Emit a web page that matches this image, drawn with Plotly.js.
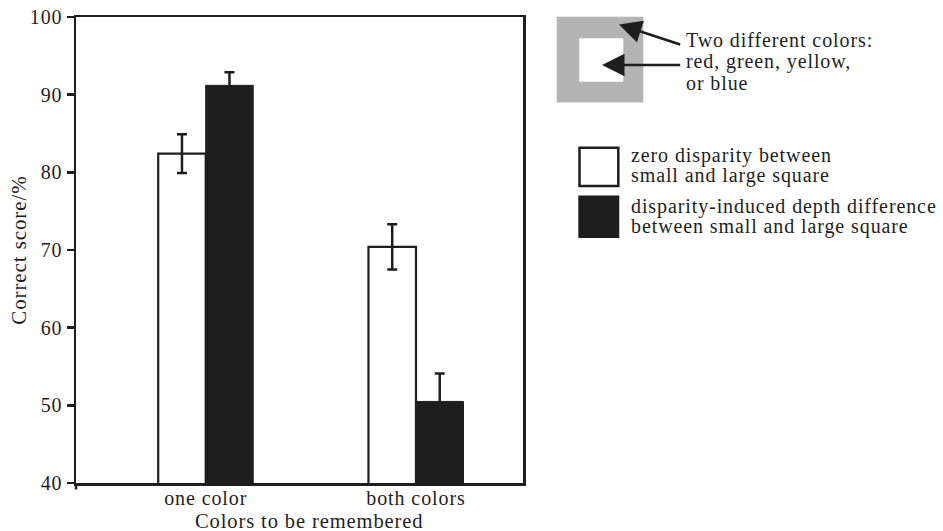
<!DOCTYPE html>
<html>
<head>
<meta charset="utf-8">
<script src="https://cdn.plot.ly/plotly-3.0.1.min.js"></script>
<style>
html,body{margin:0;padding:0;background:#fff;}
svg text{letter-spacing:0.9px;}
</style>
</head>
<body>
<div id="chart" style="width:943px;height:531px;"></div>
<script>
// ---- data ----
var categories = ['one color', 'both colors'];
var zeroDisparity = [82.4, 70.4];
var zeroDisparityErr = [2.5, 2.9];
var depthDifference = [91.2, 50.5];
var depthDifferenceErr = [1.7, 3.6];
var yTicks = [40, 50, 60, 70, 80, 90, 100];
var seriesNames = ['zero disparity between small and large square',
                   'disparity-induced depth difference between small and large square'];

// ---- layout helpers (pixel -> paper) ----
var L = 76, R = 523, T = 17, B = 483.5;
function px(x) { return (x - L) / (R - L); }
function py(y) { return (B - y) / (B - T); }

var ink = '#1e1e1e';
var fontFam = '"Liberation Serif", "Times New Roman", serif';

var traces = [
  {
    type: 'bar', x: categories, y: zeroDisparity, name: seriesNames[0],
    marker: {color: '#ffffff', line: {color: ink, width: 2.2}},
    error_y: {type: 'data', array: zeroDisparityErr, visible: true, color: ink, thickness: 2.5, width: 5}
  },
  {
    type: 'bar', x: categories, y: depthDifference, name: seriesNames[1],
    marker: {color: ink, line: {color: ink, width: 1}},
    error_y: {type: 'data', array: depthDifferenceErr, visible: true, color: ink, thickness: 2.5, width: 5}
  }
];

var shapes = [
  // stimulus illustration
  {type: 'rect', xref: 'paper', yref: 'paper', x0: px(556.7), x1: px(643.3), y0: py(102.7), y1: py(16.7),
   fillcolor: '#b4b4b4', line: {width: 0}, layer: 'above'},
  {type: 'rect', xref: 'paper', yref: 'paper', x0: px(579.3), x1: px(623.3), y0: py(81.7), y1: py(38.3),
   fillcolor: '#ffffff', line: {width: 0}, layer: 'above'},
  // legend swatches
  {type: 'rect', xref: 'paper', yref: 'paper', x0: px(579.5), x1: px(618.3), y0: py(186.2), y1: py(147.8),
   fillcolor: '#ffffff', line: {color: ink, width: 2.5}, layer: 'above'},
  {type: 'rect', xref: 'paper', yref: 'paper', x0: px(578.3), x1: px(619.3), y0: py(238.3), y1: py(195.7),
   fillcolor: ink, line: {width: 0}, layer: 'above'},
  // small notch of the y axis below the x axis
  {type: 'line', xref: 'paper', yref: 'paper', x0: 0, x1: 0, y0: py(483.5), y1: py(490),
   line: {color: ink, width: 2.5}}
];

function txt(s, x, y, opts) {
  var a = {text: s, xref: 'paper', yref: 'paper', x: px(x), y: py(y), showarrow: false,
           xanchor: 'left', yanchor: 'middle', borderpad: 0,
           font: {family: fontFam, size: 20, color: ink}};
  if (opts) for (var k in opts) a[k] = opts[k];
  return a;
}

var annotations = [
  // arrows
  {text: '', xref: 'paper', yref: 'paper', x: px(619), y: py(24.5), ax: 62.7, ay: 20.5,
   showarrow: true, arrowhead: 2, arrowsize: 1.8, arrowwidth: 2.5, arrowcolor: ink, standoff: 0},
  {text: '', xref: 'paper', yref: 'paper', x: px(602), y: py(65), ax: 79.7, ay: 0,
   showarrow: true, arrowhead: 2, arrowsize: 1.8, arrowwidth: 2.5, arrowcolor: ink, standoff: 0},
  txt('Two different colors:', 685, 40),
  txt('red, green, yellow,', 685, 62),
  txt('or blue', 685, 83),
  txt('zero disparity between', 630, 156),
  txt('small and large square', 630, 176),
  txt('disparity-induced depth difference', 630, 207),
  txt('between small and large square', 630, 227),
  // axis titles
  txt('Colors to be remembered', 309, 521.5, {xanchor: 'center', font: {family: fontFam, size: 20.5, color: ink}}),
  txt('Correct score/%', 19, 250, {xanchor: 'center', textangle: -90, font: {family: fontFam, size: 21, color: ink}})
];

var layout = {
  width: 943, height: 531,
  margin: {l: L, r: 943 - R, t: T, b: 531 - B, pad: 0},
  paper_bgcolor: '#ffffff', plot_bgcolor: '#ffffff',
  showlegend: false,
  barmode: 'group', bargap: 0.548, bargroupgap: 0,
  font: {family: fontFam, size: 20, color: ink},
  xaxis: {
    type: 'category', range: [-0.617, 1.509],
    showline: true, mirror: true, linecolor: ink, linewidth: 2.5,
    ticks: '', showgrid: false, zeroline: false, ticklabelstandoff: -5,
    tickfont: {family: fontFam, size: 20, color: ink}
  },
  yaxis: {
    range: [40, 100], tickvals: yTicks, ticktext: yTicks.map(String),
    showline: true, mirror: true, linecolor: ink, linewidth: 2.5,
    ticks: 'outside', ticklen: 7, tickwidth: 2.5, tickcolor: ink,
    showgrid: false, zeroline: false,
    tickfont: {family: fontFam, size: 20, color: ink}
  },
  shapes: shapes,
  annotations: annotations
};

Plotly.newPlot('chart', traces, layout, {displayModeBar: false, staticPlot: true});
</script>
</body>
</html>
